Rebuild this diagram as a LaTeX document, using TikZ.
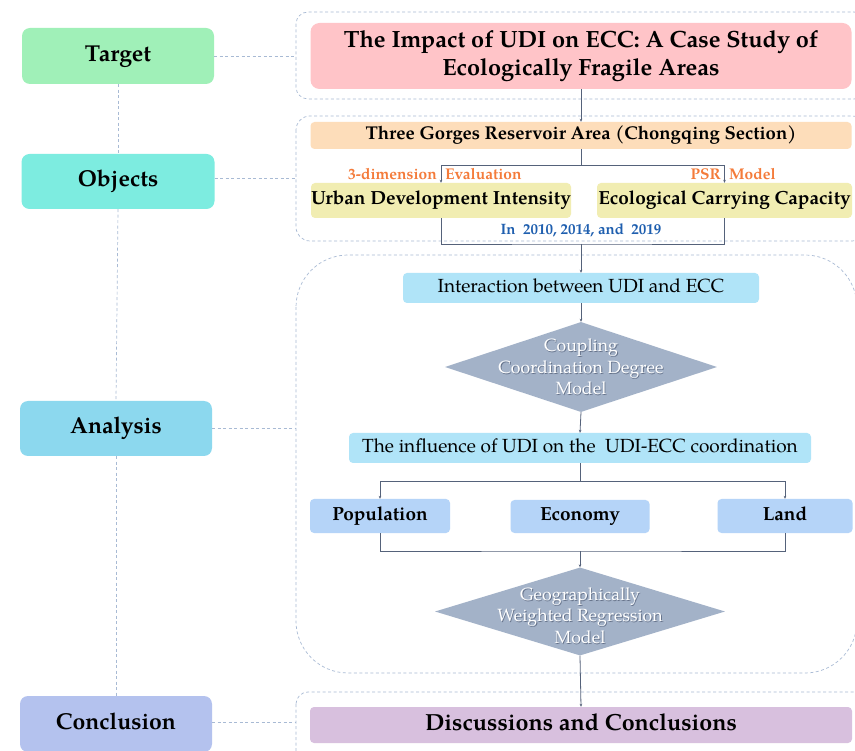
\documentclass[tikz,border=0pt]{standalone}
\usepackage{fontspec}
\setmainfont{texgyrepagella}[Extension=.otf, UprightFont=*-regular, BoldFont=*-bold, ItalicFont=*-italic, BoldItalicFont=*-bolditalic]
\usetikzlibrary{shapes.geometric, arrows.meta}
\definecolor{cTarget}{HTML}{A0F0B8}
\definecolor{cObjects}{HTML}{7DECE0}
\definecolor{cAnalysis}{HTML}{8CD8EE}
\definecolor{cConcl}{HTML}{B4C2EE}
\definecolor{cTitle}{HTML}{FFC4C8}
\definecolor{cTGR}{HTML}{FDDDBA}
\definecolor{cYel}{HTML}{F1EDB2}
\definecolor{cCyan}{HTML}{B0E4F8}
\definecolor{cBlue}{HTML}{B5D4F8}
\definecolor{cDia}{HTML}{A3B2C8}
\definecolor{cDisc}{HTML}{D8C0DE}
\definecolor{cDash}{HTML}{A8BAD4}
\definecolor{cLine}{HTML}{55627A}
\definecolor{cOrange}{HTML}{F47B3A}
\definecolor{cBlueText}{HTML}{1F5FAF}
\definecolor{cShadow}{HTML}{65728A}
\tikzset{
  labelbox/.style={draw=none, rounded corners=8pt, inner sep=0pt, font=\fontsize{23}{27}\selectfont\bfseries, text=black},
  flowbox/.style={draw=none, rounded corners=4pt, inner sep=0pt},
  oneline/.style={execute at begin node=\strut},
  grp/.style={draw=cDash, line width=0.7pt, dash pattern=on 3pt off 2.5pt},
  link/.style={draw=cDash, line width=0.7pt, dash pattern=on 3pt off 2.5pt},
  conn/.style={draw=cLine, line width=0.8pt},
  arr/.style={conn, -{Stealth[length=3pt, width=2.6pt]}},
  dia/.style={diamond, fill=cDia, draw=none, inner sep=0pt},
  diatext/.style={align=center, text=white, font=\fontsize{17.7}{21.5}\selectfont},
  diashadow/.style={align=center, text=cShadow, font=\fontsize{17.7}{21.5}\selectfont},
  small/.style={font=\fontsize{15.5}{17}\selectfont\bfseries, text=cOrange, inner sep=0pt}
}
\begin{document}
\begin{tikzpicture}[x=1pt, y=-1pt]
\useasboundingbox (0,0) rectangle (855,751);
\clip (0,0) rectangle (855,751);
\fill[white] (0,0) rectangle (855,751);

% dashed group frames
\draw[grp, rounded corners=12pt] (296,12) rectangle (866,99);
\draw[grp, rounded corners=14pt] (296,116) rectangle (866,241);
\draw[grp, rounded corners=52pt] (296,255) rectangle (857,673);
\draw[grp, rounded corners=12pt] (296,692) rectangle (866,775);

% left column labels
\node[labelbox, oneline, fill=cTarget, minimum width=192pt, minimum height=56pt] (target) at (118,56) {Target};
\node[labelbox, oneline, fill=cObjects, minimum width=193pt, minimum height=55pt] (objects) at (118,181.5) {Objects};
\node[labelbox, oneline, fill=cAnalysis, minimum width=192pt, minimum height=55pt] (analysis) at (116,428.5) {Analysis};
\node[labelbox, oneline, fill=cConcl, minimum width=192pt, minimum height=56pt] (conclusion) at (116,724) {Conclusion};

% dashed links from labels to their frames
\coordinate (g1w) at (296,56);
\coordinate (g2w) at (296,178);
\coordinate (g3w) at (296,428);
\coordinate (g4w) at (296,722);
\draw[link] (target.east |- g1w) -- (g1w);
\draw[link] (objects.east |- g2w) -- (g2w);
\draw[link] (analysis.east |- g3w) -- (g3w);
\draw[link] (conclusion.east |- g4w) -- (g4w);

% main flow boxes
\node[flowbox, rounded corners=9pt, fill=cTitle, minimum width=541pt, minimum height=66pt, align=center, font=\fontsize{23.5}{28}\selectfont\bfseries] (title) at (581,56)
  {The Impact of UDI on ECC: A Case Study of\\Ecologically Fragile Areas};
\node[flowbox, oneline, fill=cTGR, minimum width=541pt, minimum height=27pt, font=\fontsize{18.5}{21}\selectfont\bfseries] (tgr) at (581,135.5)
  {Three Gorges Reservoir Area (Chongqing Section)};
\node[flowbox, oneline, fill=cYel, minimum width=260pt, minimum height=35pt, font=\fontsize{19}{22}\selectfont\bfseries] (udi) at (441,200.5)
  {Urban Development Intensity};
\node[flowbox, oneline, fill=cYel, minimum width=255pt, minimum height=35pt, font=\fontsize{19}{22}\selectfont\bfseries] (ecc) at (724.5,200.5)
  {Ecological Carrying Capacity};

\node[small, anchor=east] (lab3d) at (437,174.5) {3-dimension};
\node[small, anchor=west] (labeval) at (445,174.5) {Evaluation};
\node[small, anchor=east] (labpsr) at (721,174.5) {PSR};
\node[small, anchor=west] (labmodel) at (729,174.5) {Model};
\node[font=\fontsize{15}{17}\selectfont\bfseries, text=cBlueText, inner sep=0pt] (years) at (581,230)
  {In\ \ 2010, 2014, and\ \ 2019};

\node[flowbox, oneline, fill=cCyan, minimum width=356pt, minimum height=30pt, font=\fontsize{19}{22}\selectfont] (inter) at (581,288)
  {Interaction between UDI and ECC};
\node[dia, minimum width=272pt, minimum height=90pt] (d1) at (581,367) {};
\node[diashadow] (d1s) at (581.9,367.9) {Coupling\\Coordination Degree\\Model};
\node[diatext] (d1t) at (581,367) {Coupling\\Coordination Degree\\Model};

\node[flowbox, oneline, fill=cCyan, minimum width=462pt, minimum height=30pt, font=\fontsize{19}{22}\selectfont] (infl) at (580,448)
  {The influence of UDI on the\ \ UDI-ECC coordination};

\node[flowbox, oneline, fill=cBlue, minimum width=140pt, minimum height=34pt, font=\fontsize{19}{22}\selectfont\bfseries] (pop) at (380,516) {Population};
\node[flowbox, oneline, fill=cBlue, minimum width=139pt, minimum height=33pt, font=\fontsize{19}{22}\selectfont\bfseries] (econ) at (580,516.5) {Economy};
\node[flowbox, oneline, fill=cBlue, minimum width=135pt, minimum height=34pt, font=\fontsize{19}{22}\selectfont\bfseries] (land) at (785,516) {Land};

\node[dia, minimum width=290pt, minimum height=88pt] (d2) at (580,611.5) {};
\node[diashadow] (d2s) at (580.9,616.4) {Geographically\\Weighted Regression\\Model};
\node[diatext] (d2t) at (580,615.5) {Geographically\\Weighted Regression\\Model};

\node[flowbox, oneline, fill=cDisc, minimum width=542pt, minimum height=36pt, font=\fontsize{23.3}{27}\selectfont\bfseries] (disc) at (581,725)
  {Discussions and Conclusions};

% connectors
\coordinate (b1) at (581,165);
\coordinate (b2) at (581,244);
\coordinate (b3) at (580,481);
\coordinate (b4) at (580,551);
\draw[arr] (title.south) -- (tgr.north);
\draw[conn] (tgr.south) -- (b1);
\draw[arr] (b1) -| (udi.north);
\draw[arr] (b1) -| (ecc.north);
\draw[conn] (udi.south) |- (b2) -| (ecc.south);
\draw[arr] (b2) -- (inter.north);
\draw[arr] (inter.south) -- (d1.north);
\draw[arr] (d1.south) -- (infl.north);
\draw[conn] (infl.south) -- (b3);
\draw[arr] (b3) -| (pop.north);
\draw[arr] (b3) -| (land.north);
\draw[conn] (pop.south) |- (b4) -| (land.south);
\draw[arr] (b4) -- (d2.north);
\draw[arr] (d2.south) -- (disc.north);

% left dashed spine
\draw[link] (target.south) -- (objects.north);
\draw[link] (objects.south) -- (analysis.north);
\draw[link] (analysis.south) -- (conclusion.north);
\end{tikzpicture}
\end{document}
